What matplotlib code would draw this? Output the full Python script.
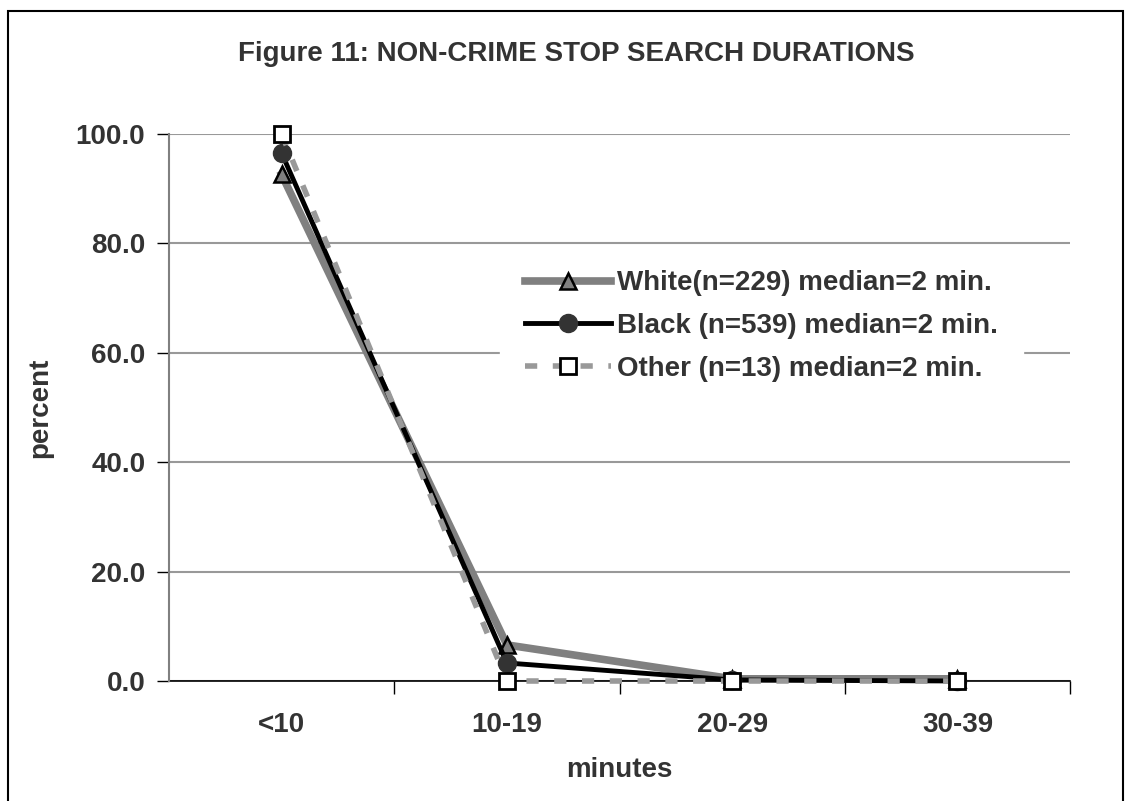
import matplotlib.pyplot as plt
from matplotlib.patches import Rectangle

plt.rcParams['font.family'] = ['Liberation Sans', 'DejaVu Sans']

categories = ["<10", "10-19", "20-29", "30-39"]
white = [92.6, 6.6, 0.4, 0.4]
black = [96.5, 3.3, 0.2, 0.0]
other = [100.0, 0.0, 0.0, 0.0]
labels = ["White(n=229) median=2 min.",
          "Black (n=539) median=2 min.",
          "Other (n=13) median=2 min."]
yticks = [0, 20, 40, 60, 80, 100]

txt = '#333333'
fs = 20
fig = plt.figure(figsize=(11.25, 8.01), dpi=100)
ax = fig.add_axes([0.1502, 0.1498, 0.801, 0.6829])

x = range(len(categories))
ax.plot(x, white, color='#808080', lw=5.5, marker='^', ms=11,
        mfc='#808080', mec='black', mew=1.8, label=labels[0], zorder=3, clip_on=False)
ax.plot(x, black, color='black', lw=3.5, marker='o', ms=13,
        mfc='#333333', mec='#333333', label=labels[1], zorder=4, clip_on=False)
ax.plot(x, other, color='#999999', lw=4, ls=(0, (2.2, 2.8)), marker='s', ms=12,
        mfc='white', mec='black', mew=2, label=labels[2], zorder=5, clip_on=False)

ax.set_xlim(-0.5, 3.5)
ax.set_ylim(0, 100)
ax.set_yticks(yticks)
ax.set_yticklabels([f"{v:.1f}" for v in yticks])
ax.set_xticks(list(x))
ax.set_xticklabels(categories)
ax.set_xticks([0.5, 1.5, 2.5, 3.5], minor=True)
ax.tick_params(axis='x', which='major', length=0, pad=22)
ax.tick_params(axis='x', which='minor', length=9, width=1, direction='out')
ax.tick_params(axis='y', length=9, width=1, direction='out', pad=8, color='black')
for lab in ax.get_xticklabels() + ax.get_yticklabels():
    lab.set_fontsize(fs)
    lab.set_fontweight('bold')
    lab.set_color(txt)

ax.grid(axis='y', color='#999999', lw=1.5)
ax.set_axisbelow(True)
for s in ['top', 'right']:
    ax.spines[s].set_visible(False)
ax.spines['left'].set_color('#808080')
ax.spines['left'].set_linewidth(1.5)
ax.spines['bottom'].set_color('black')
ax.spines['bottom'].set_linewidth(1.2)
ax.spines['bottom'].set_zorder(2)

ax.set_ylabel("percent", fontsize=fs, fontweight='bold', color=txt, labelpad=16)
ax.set_xlabel("minutes", fontsize=fs, fontweight='bold', color=txt, labelpad=14)
fig.text(0.512, 0.933, "Figure 11: NON-CRIME STOP SEARCH DURATIONS",
         ha='center', va='center', fontsize=fs, fontweight='bold', color=txt)

leg = ax.legend(loc='upper left', bbox_to_anchor=(0.352, 0.822), frameon=True,
                fontsize=fs, handlelength=3.1, handletextpad=0.2,
                labelspacing=0.6, borderpad=0.9)
leg.get_frame().set_edgecolor('white')
leg.get_frame().set_facecolor('white')
leg.get_frame().set_alpha(1)
leg.get_frame().set_boxstyle('square', pad=0)
for t in leg.get_texts():
    t.set_fontweight('bold')
    t.set_color(txt)

fig.patches.append(Rectangle((8 / 1125, -0.1), 1115 / 1125, 1 - 11 / 801 + 0.1,
                             transform=fig.transFigure, fill=False,
                             edgecolor='black', lw=1.5))

fig.savefig("out.png", dpi=100)
